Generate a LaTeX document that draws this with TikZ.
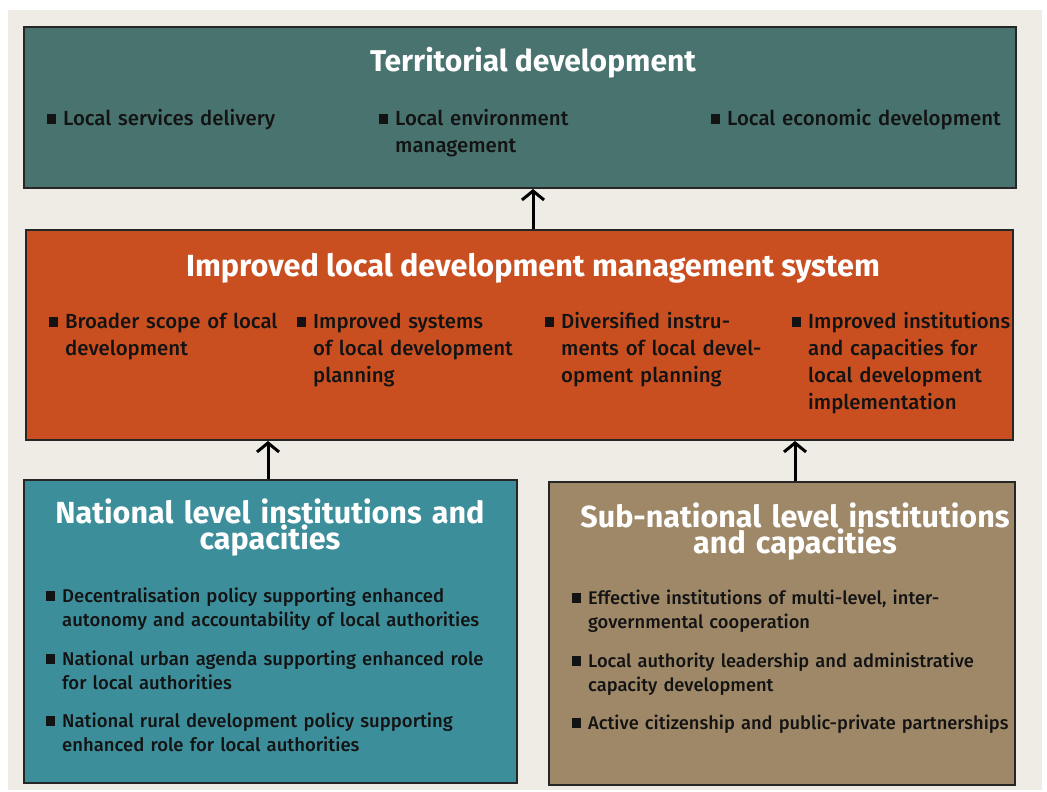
\documentclass[tikz,border=0pt]{standalone}
\usepackage{fontspec}
\setmainfont{Fira Sans}[UprightFont=* Medium, BoldFont=* Bold]
\usetikzlibrary{arrows.meta,calc}
\definecolor{bgc}{HTML}{EFECE6}
\definecolor{topc}{HTML}{48736F}
\definecolor{midc}{HTML}{C94F21}
\definecolor{natc}{HTML}{3D8E9B}
\definecolor{subc}{HTML}{9E8868}
\definecolor{txt}{HTML}{131313}
\newcommand\sq{\leavevmode\llap{\rule[1.5pt]{9.5pt}{9.5pt}\hspace{7pt}}}
\tikzset{
  box/.style={draw=black!85, line width=2pt, inner sep=0pt},
  ttl/.style={text=white, font=\fontsize{30}{27}\bfseries, inner sep=0pt, anchor=base},
  ttlb/.style={text=white, font=\fontsize{30.5}{26}\bfseries, inner sep=0pt, anchor=base, text width=480pt, align=center},
  bl/.style={text=txt, font=\fontsize{20.4}{27}\selectfont, inner sep=0pt, anchor=base west, text width=#1, align=left},
  bls/.style={text=txt, font=\fontsize{18.5}{24.5}\selectfont, inner sep=0pt, anchor=base west, text width=#1, align=left},
  blr/.style={text=txt, font=\fontsize{18.3}{24.5}\selectfont, inner sep=0pt, anchor=base west, text width=#1, align=left},
  arr/.style={line width=3pt, -{Straight Barb[length=9pt,width=22pt,line width=3pt]}}
}
\begin{document}
\begin{tikzpicture}[x=1pt,y=-1pt]
\useasboundingbox (0,0) rectangle (1047,792);
\fill[white] (0,0) rectangle (1047,792);
\fill[bgc] (8,10) rectangle (1042,790);
% boxes
\node[box, fill=topc, minimum width=992pt, minimum height=161pt] (terr) at (520,107.5) {};
\node[box, fill=midc, minimum width=987pt, minimum height=210pt] (imp) at (519.5,335) {};
\node[box, fill=natc, minimum width=493pt, minimum height=303pt] (nat) at (270.5,631.5) {};
\node[box, fill=subc, minimum width=466pt, minimum height=303pt] (sub) at (782,633.5) {};
% titles
\node[ttl] (terrT) at (533,72) {Territorial development};
\node[ttl, font=\fontsize{30.6}{27}\bfseries] (impT) at (533,276) {Improved local development management system};
\node[ttlb] (natT) at (270,523) {National level institutions and\\capacities};
\node[ttlb] (subT) at (795,527) {Sub-national level institutions\\and capacities};
% top bullets
\node[bl=260pt] (t1) at (63,125) {\sq Local services delivery};
\node[bl=260pt] (t2) at (395,125) {\sq Local environment\\management};
\node[bl=290pt] (t3) at (727,125) {\sq Local economic development};
% middle bullets
\node[bl=230pt] (m1) at (65,328) {\sq Broader scope of local\\development};
\node[bl=230pt] (m2) at (313,328) {\sq Improved systems\\of local development\\planning};
\node[bl=230pt] (m3) at (561,328) {\sq Diversified instru-\\ments of local devel-\\opment planning};
\node[bl=230pt] (m4) at (808,328) {\sq Improved institutions\\and capacities for\\local development\\implementation};
% national bullets
\node[bls=450pt] (n1) at (62,602) {\sq Decentralisation policy supporting enhanced\\autonomy and accountability of local authorities};
\node[bls=450pt] (n2) at (62,665) {\sq National urban agenda supporting enhanced role\\for local authorities};
\node[bls=450pt] (n3) at (62,727) {\sq National rural development policy supporting\\enhanced role for local authorities};
% sub-national bullets
\node[blr=425pt] (s1) at (588,604) {\sq Effective institutions of multi-level, inter-\\governmental cooperation};
\node[blr=425pt] (s2) at (588,667) {\sq Local authority leadership and administrative\\capacity development};
\node[blr=425pt] (s3) at (588,729) {\sq Active citizenship and public-private partnerships};
% arrows
\coordinate (a1) at (533,0);
\coordinate (a2) at (268,0);
\coordinate (a3) at (795,0);
\draw[arr] (imp.north -| a1) -- (terr.south -| a1);
\draw[arr] (nat.north -| a2) -- (imp.south -| a2);
\draw[arr] (sub.north -| a3) -- (imp.south -| a3);
\end{tikzpicture}
\end{document}
